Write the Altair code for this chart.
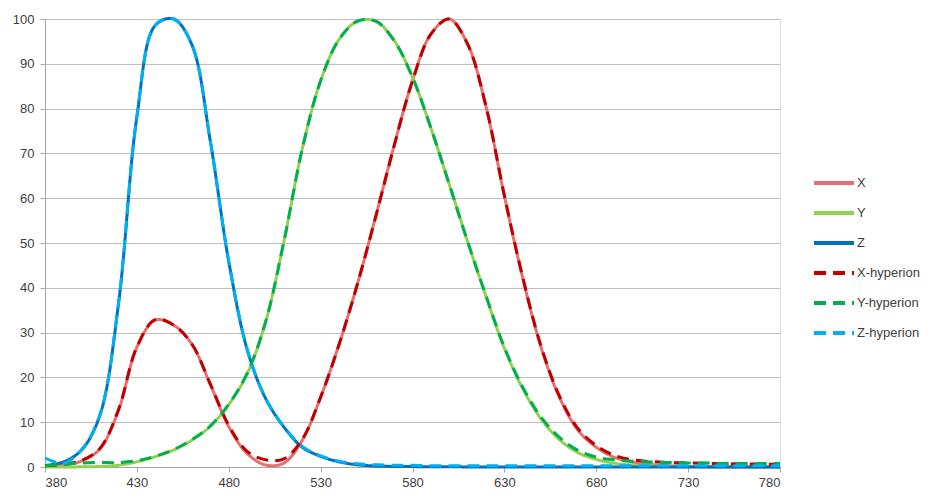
import altair as alt
import pandas as pd

wavelength = list(range(380, 790, 10))

x_cie = [0.13, 0.40, 1.35, 4.10, 12.65, 26.73, 32.79, 31.65, 27.38, 18.39,
         9.00, 3.01, 0.46, 0.88, 5.96, 15.58, 27.34, 40.81, 55.97, 71.75,
         86.26, 96.62, 100.0, 94.39, 80.44, 60.48, 42.17, 26.69, 15.52, 8.23,
         4.40, 2.14, 1.07, 0.55, 0.27, 0.13, 0.07, 0.03, 0.02, 0.01, 0.0]
y_cie = [0.0, 0.01, 0.04, 0.12, 0.40, 1.16, 2.30, 3.80, 6.00, 9.10,
         13.90, 20.80, 32.30, 50.30, 71.00, 86.20, 95.40, 99.50, 99.50, 95.20,
         87.00, 75.70, 63.10, 50.30, 38.10, 26.50, 17.50, 10.70, 6.10, 3.20,
         1.70, 0.82, 0.41, 0.21, 0.10, 0.05, 0.03, 0.01, 0.01, 0.0, 0.0]
z_cie = [0.36, 1.13, 3.83, 11.70, 36.43, 78.19, 98.59, 100.0, 94.19, 72.66,
         45.87, 26.25, 15.35, 8.93, 4.42, 2.38, 1.15, 0.49, 0.22, 0.12,
         0.09, 0.06, 0.05, 0.02, 0.01, 0.0, 0.0, 0.0, 0.0, 0.0,
         0.0, 0.0, 0.0, 0.0, 0.0, 0.0, 0.0, 0.0, 0.0, 0.0, 0.0]

x_hyp = [0.3, 0.6, 1.5, 4.2, 12.8, 26.8, 32.9, 31.7, 27.4, 18.5,
         9.3, 3.5, 1.6, 1.8, 6.2, 15.6, 27.3, 40.8, 55.9, 71.7,
         86.2, 96.6, 100.0, 94.4, 80.5, 60.6, 42.3, 26.9, 15.8, 8.6,
         4.8, 2.6, 1.6, 1.2, 1.0, 0.9, 0.8, 0.7, 0.7, 0.6, 0.6]
y_hyp = [0.3, 0.6, 0.9, 1.0, 1.0, 1.4, 2.4, 3.9, 6.1, 9.2,
         14.0, 20.9, 32.3, 50.3, 71.0, 86.2, 95.4, 99.5, 99.5, 95.2,
         87.0, 75.7, 63.1, 50.3, 38.2, 26.7, 17.8, 11.1, 6.6, 3.7,
         2.2, 1.6, 1.3, 1.1, 1.0, 0.9, 0.9, 0.8, 0.8, 0.8, 0.8]
z_hyp = [2.0, 0.8, 3.9, 11.8, 36.5, 78.2, 98.6, 100.0, 94.2, 72.7,
         45.9, 26.3, 15.4, 9.0, 4.6, 2.5, 1.3, 0.7, 0.5, 0.4,
         0.4, 0.3, 0.3, 0.3, 0.3, 0.3, 0.3, 0.3, 0.3, 0.3,
         0.3, 0.3, 0.3, 0.3, 0.3, 0.3, 0.3, 0.3, 0.3, 0.3, 0.3]

series_names = ["X", "Y", "Z", "X-hyperion", "Y-hyperion", "Z-hyperion"]
series_values = [x_cie, y_cie, z_cie, x_hyp, y_hyp, z_hyp]
series_colors = ["#E56F6F", "#92D050", "#0070C0", "#C00000", "#00B050", "#00B0F0"]
series_dash = [[1, 0], [1, 0], [1, 0], [12, 7], [12, 7], [12, 7]]

x_ticks = [380, 430, 480, 530, 580, 630, 680, 730, 780]
y_ticks = [0, 10, 20, 30, 40, 50, 60, 70, 80, 90, 100]

rows = []
for name, vals in zip(series_names, series_values):
    for w, v in zip(wavelength, vals):
        rows.append({"wavelength": w, "value": v, "series": name})
df = pd.DataFrame(rows)

color_scale = alt.Scale(domain=series_names, range=series_colors)
dash_scale = alt.Scale(domain=series_names, range=series_dash)

chart = alt.Chart(df).mark_line(strokeWidth=3, interpolate="catmull-rom").encode(
    x=alt.X("wavelength:Q",
            scale=alt.Scale(domain=[380, 780], nice=False, zero=False),
            axis=alt.Axis(values=x_ticks, title=None, grid=False, labelFontSize=13,
                          labelColor="#404040", domainColor="#A6A6A6", tickColor="#A6A6A6",
                          tickSize=5, labelPadding=4, labelFont="Liberation Sans")),
    y=alt.Y("value:Q",
            scale=alt.Scale(domain=[0, 100], nice=False),
            axis=alt.Axis(values=y_ticks, title=None, grid=True, gridColor="#BFBFBF",
                          labelFontSize=13, labelColor="#404040", domainColor="#A6A6A6",
                          tickColor="#A6A6A6", tickSize=5, labelPadding=6,
                          labelFont="Liberation Sans")),
    color=alt.Color("series:N", scale=color_scale, sort=series_names,
                    legend=alt.Legend(title=None, orient="none", legendX=767, legendY=142,
                                      symbolType="stroke", symbolSize=1600,
                                      symbolStrokeWidth=4, rowPadding=-11.5,
                                      labelFontSize=13, labelColor="#404040",
                                      labelFont="Liberation Sans", labelOffset=1,
                                      labelLimit=200)),
    strokeDash=alt.StrokeDash("series:N", scale=dash_scale, sort=series_names, legend=None),
    detail="series:N",
).properties(
    width=735, height=448,
    padding={"left": 37, "top": 11, "right": 142, "bottom": 25},
    autosize=alt.AutoSizeParams(type="none"),
).configure_view(stroke=None).configure(background="white")

chart.save("out.html", embed_options={"renderer": "svg", "actions": False})
